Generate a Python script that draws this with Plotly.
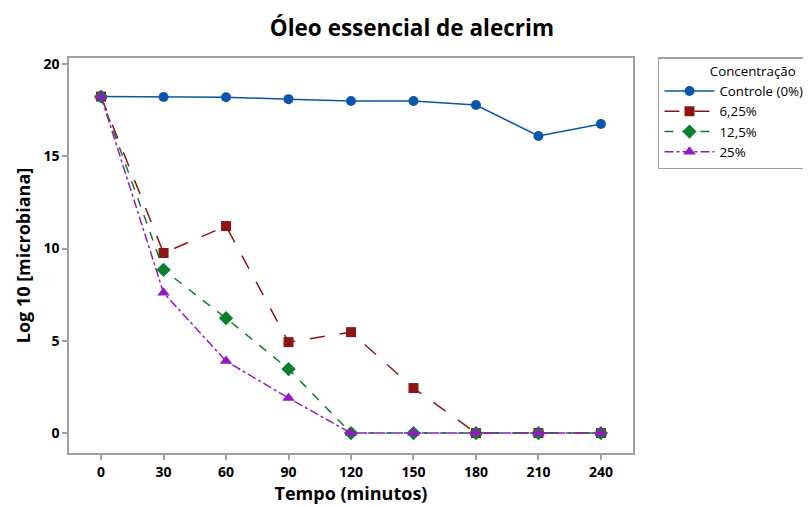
import plotly.graph_objects as go

tempo = [0, 30, 60, 90, 120, 150, 180, 210, 240]
controle = [18.24, 18.22, 18.2, 18.1, 18.0, 18.0, 17.78, 16.1, 16.75]
c625 = [18.24, 9.76, 11.22, 4.93, 5.47, 2.44, 0, 0, 0]
c125 = [18.24, 8.85, 6.23, 3.47, 0, 0, 0, 0, 0]
c25 = [18.24, 7.6, 3.9, 1.9, 0, 0, 0, 0, 0]
series_names = ["Controle (0%)", "6,25%", "12,5%", "25%"]
x_ticks = [0, 30, 60, 90, 120, 150, 180, 210, 240]
y_ticks = [0, 5, 10, 15, 20]

FONT = "Open Sans"
fig = go.Figure()
styles = [
    (controle, "#0A56A8", "solid", "circle", 10),
    (c625, "#8E1515", "longdash", "square", 10),
    (c125, "#0A7F2C", "dash", "diamond", 11),
    (c25, "#9419C2", "dashdot", "triangle-up", 11),
]
for name, (vals, col, dash, sym, sz) in zip(series_names, styles):
    fig.add_trace(go.Scatter(
        x=tempo, y=vals, name=name, mode="lines+markers",
        line=dict(color=col, width=1.5, dash=dash),
        marker=dict(color=col, symbol=sym, size=sz),
    ))

axis_common = dict(
    showline=True, linecolor="#A0A0A0", linewidth=1.5, mirror=True,
    showgrid=False, zeroline=False, ticks="outside", ticklen=5,
    tickcolor="#A0A0A0", tickwidth=1.5, automargin=False,
    tickfont=dict(family=FONT, size=14, color="black", weight="bold"),
)

# page body has an 8px margin, so the figure is sized to the visible area
fig.update_layout(
    width=803, height=499,
    paper_bgcolor="white", plot_bgcolor="white",
    margin=dict(l=61, r=178, t=50, b=54, autoexpand=False),
    title=dict(text="<b>Óleo essencial de alecrim</b>", x=0.503, xanchor="center",
               y=0.96, yanchor="middle",
               font=dict(family=FONT, size=22.5, color="black")),
    xaxis=dict(range=[-15.4, 255.4], tickvals=x_ticks,
               title=dict(text="<b>Tempo (minutos)</b>", standoff=6,
                          font=dict(family=FONT, size=18, color="black")),
               **axis_common),
    yaxis=dict(range=[-1.08, 20.33], tickvals=y_ticks,
               title=dict(text="<b>Log 10 [microbiana]</b>", standoff=8,
                          font=dict(family=FONT, size=18, color="black")),
               **axis_common),
    legend=dict(
        title=dict(text="\u00a0" * 14 + "Concentração",
                   font=dict(family=FONT, size=13.3, color="black")),
        x=1.0443, xanchor="left", y=1.0025, yanchor="top",
        bordercolor="#A0A0A0", borderwidth=1.5, bgcolor="white",
        font=dict(family=FONT, size=13.3, color="black"),
        tracegroupgap=0, itemwidth=50,
    ),
    showlegend=True,
)

fig.write_html("out.html")
